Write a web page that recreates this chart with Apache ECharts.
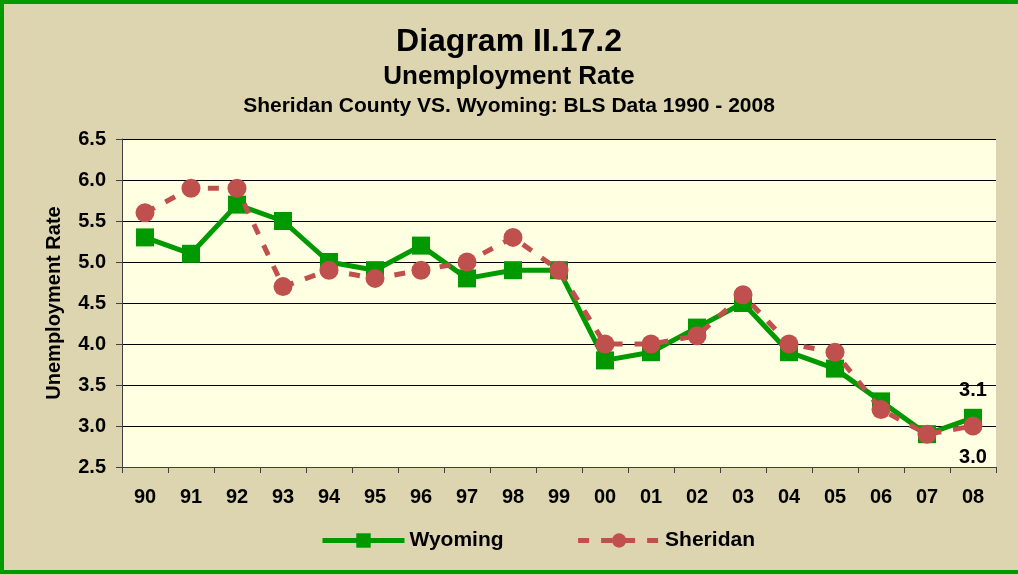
<!DOCTYPE html>
<html><head><meta charset="utf-8">
<script src="https://cdn.jsdelivr.net/npm/echarts@6/dist/echarts.min.js"></script>
<style>html,body{margin:0;padding:0;background:#DDD5AF;}#c{width:1018px;height:575px;}</style>
</head><body><div id="c"></div>
<script>
const categories = ['90','91','92','93','94','95','96','97','98','99','00','01','02','03','04','05','06','07','08'];
const wyoming = [5.3,5.1,5.7,5.5,5.0,4.9,5.2,4.8,4.9,4.9,3.8,3.9,4.2,4.5,3.9,3.7,3.3,2.9,3.1];
const sheridan = [5.6,5.9,5.9,4.7,4.9,4.8,4.9,5.0,5.3,4.9,4.0,4.0,4.1,4.6,4.0,3.9,3.2,2.9,3.0];
const yTicks = {min:2.5, max:6.5, interval:0.5};
const font = 'Liberation Sans, Arial, sans-serif';
const chart = echarts.init(document.getElementById('c'));
const lastIdx = categories.length - 1;
chart.setOption({
  backgroundColor:'#DDD5AF',
  animation:false,
  textStyle:{fontFamily:font},
  title:[
    {text:'Diagram II.17.2', left:'center', top:21, textStyle:{fontSize:32, fontWeight:'bold', color:'#000', fontFamily:font}},
    {text:'Unemployment Rate', left:'center', top:59, textStyle:{fontSize:26, fontWeight:'bold', color:'#000', fontFamily:font}},
    {text:'Sheridan County VS. Wyoming: BLS Data 1990 - 2008', left:'center', top:91, textStyle:{fontSize:21, fontWeight:'bold', color:'#000', fontFamily:font}}
  ],
  graphic:[{type:'rect', shape:{x:2, y:2, width:1030, height:570}, style:{fill:'none', stroke:'#009900', lineWidth:4}, silent:true}],
  legend:{
    bottom:19, left:315, itemWidth:82, itemHeight:18, itemGap:72,
    lineStyle:{width:5},
    textStyle:{fontSize:21, fontWeight:'bold', color:'#000', fontFamily:font},
    data:['Wyoming','Sheridan']
  },
  grid:{left:122, right:22, top:139, bottom:108, show:true, backgroundColor:'#FFFFE1', borderWidth:0},
  xAxis:{
    type:'category', data:categories, boundaryGap:true,
    axisLine:{lineStyle:{color:'#404040', width:1}},
    axisTick:{show:true, alignWithLabel:false, length:6, lineStyle:{color:'#404040'}},
    axisLabel:{fontSize:20, fontWeight:'bold', color:'#000', margin:20, fontFamily:font}
  },
  yAxis:{
    type:'value', min:yTicks.min, max:yTicks.max, interval:yTicks.interval,
    name:'Unemployment Rate', nameLocation:'middle', nameGap:58, nameRotate:90,
    nameTextStyle:{fontSize:20, fontWeight:'bold', color:'#000', fontFamily:font},
    axisLine:{show:true, lineStyle:{color:'#404040'}},
    axisTick:{show:true, length:6, lineStyle:{color:'#404040'}},
    axisLabel:{fontSize:20, fontWeight:'bold', color:'#000', margin:16, fontFamily:font, formatter:v=>v.toFixed(1)},
    splitLine:{lineStyle:{color:'#000', width:1}}
  },
  series:[
    {
      name:'Wyoming', type:'line', data:wyoming.map((v,i)=>i===lastIdx?{value:v,label:{show:true,position:'top',distance:8}}:v),
      symbol:'rect', symbolSize:18, z:2,
      itemStyle:{color:'#009900'}, lineStyle:{color:'#009900', width:5},
      label:{show:false, fontSize:20, fontWeight:'bold', color:'#000', formatter:p=>p.value.toFixed(1)}
    },
    {
      name:'Sheridan', type:'line', data:sheridan.map((v,i)=>i===lastIdx?{value:v,label:{show:true,position:'bottom',distance:12}}:v),
      symbol:'circle', symbolSize:19, z:3,
      itemStyle:{color:'#C0504D'}, lineStyle:{color:'#C0504D', width:5, type:[11,12]},
      label:{show:false, fontSize:20, fontWeight:'bold', color:'#000', formatter:p=>p.value.toFixed(1)}
    }
  ]
});
</script></body></html>
